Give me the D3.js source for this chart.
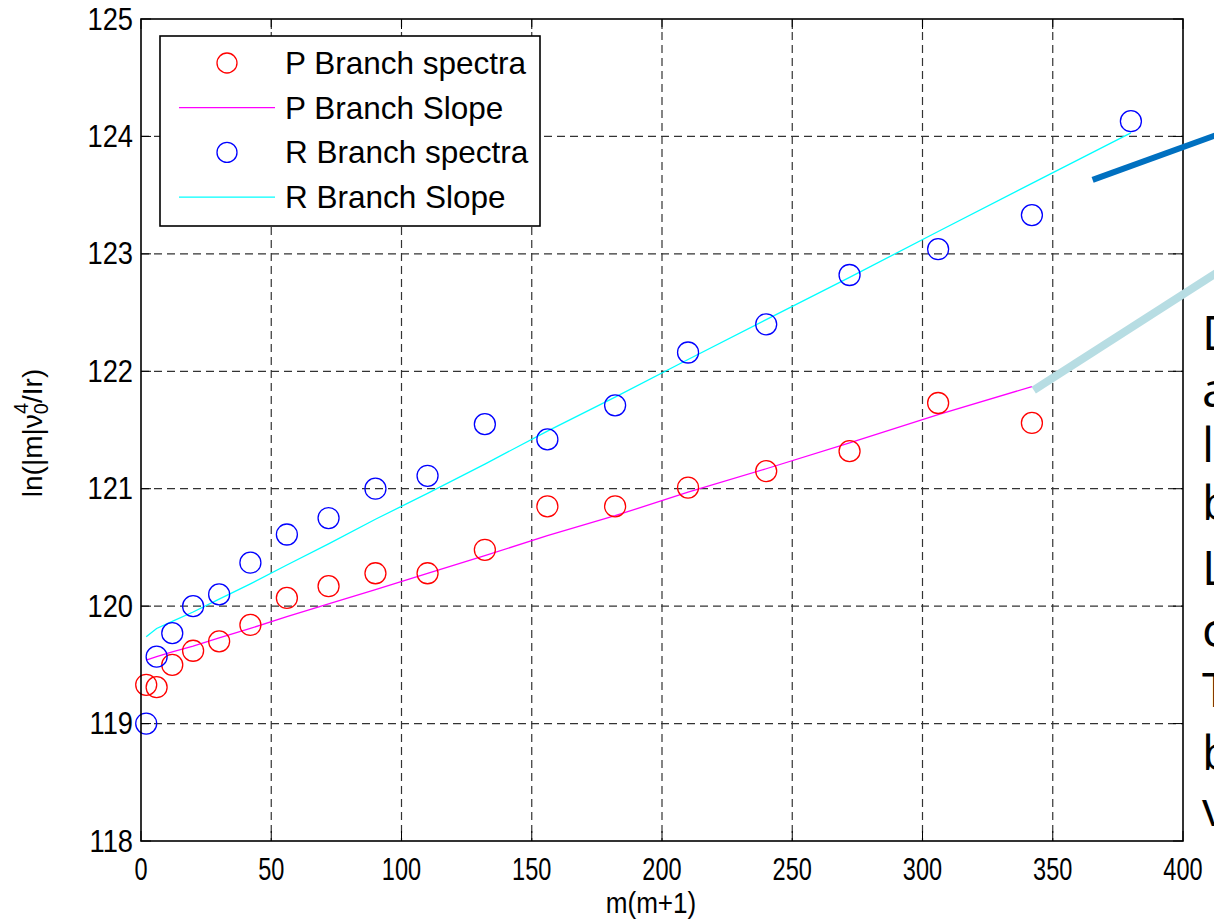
<!DOCTYPE html>
<html>
<head>
<meta charset="utf-8">
<script src="https://cdn.jsdelivr.net/npm/d3@7"></script>
<style>
  body { margin: 0; background: #fff; overflow: hidden; }
  svg { display: block; font-family: "Liberation Sans", Arial, sans-serif; }
</style>
</head>
<body>
<svg id="chart" width="1214" height="923"></svg>
<script>
// m(m+1) values
var xP = [2, 6, 12, 20, 30, 42, 56, 72, 90, 110, 132, 156, 182, 210, 240, 272, 306, 342];
var xR = [2, 6, 12, 20, 30, 42, 56, 72, 90, 110, 132, 156, 182, 210, 240, 272, 306, 342, 380];

var pSpectra = [119.33, 119.31, 119.50, 119.62, 119.70, 119.84, 120.07, 120.17, 120.28, 120.28,
                120.48, 120.85, 120.85, 121.01, 121.15, 121.32, 121.73, 121.56];
var pSlope   = [119.54, 119.57, 119.61, 119.66, 119.73, 119.81, 119.91, 120.02, 120.14, 120.28,
                120.43, 120.60, 120.77, 120.97, 121.17, 121.39, 121.63, 121.87];

var rSpectra = [119.00, 119.57, 119.77, 120.00, 120.10, 120.37, 120.61, 120.75, 121.00, 121.11,
                121.55, 121.42, 121.71, 122.16, 122.40, 122.82, 123.04, 123.33, 124.13];
var rSlope   = [119.74, 119.81, 119.87, 119.95, 120.06, 120.19, 120.35, 120.53, 120.74, 120.96,
                121.21, 121.49, 121.78, 122.10, 122.44, 122.80, 123.19, 123.60, 124.03];

var xTicks = [0, 50, 100, 150, 200, 250, 300, 350, 400];
var yTicks = [118, 119, 120, 121, 122, 123, 124, 125];

var legendLabels = ["P Branch spectra", "P Branch Slope", "R Branch spectra", "R Branch Slope"];

// slide annotations that overlap the chart (data units)
var darkArrow  = [[365.3, 123.63], [420, 124.07]];
var lightArrow = [[342.7, 121.84], [420, 122.94]];
var sideLetters = ["D", "a", "l", "b", "L", "c", "T", "b", "v"];
var sideBaselines = [350, 407, 462, 520, 585, 647, 707, 770, 826];

var svg = d3.select("#chart"),
    margin = {top: 19, left: 141},
    width = 1042,
    height = 822;

var x = d3.scaleLinear().domain([0, 400]).range([0, width]);
var y = d3.scaleLinear().domain([118, 125]).range([height, 0]);

var g = svg.append("g")
    .attr("transform", "translate(" + margin.left + "," + margin.top + ")");

// grid
g.selectAll(".gx").data(xTicks.slice(1, -1)).enter().append("line")
    .attr("x1", d => x(d)).attr("x2", d => x(d))
    .attr("y1", 0).attr("y2", height)
    .attr("stroke", "#333").attr("stroke-width", 1.2).attr("stroke-dasharray", "8,5");
g.selectAll(".gy").data(yTicks.slice(1, -1)).enter().append("line")
    .attr("y1", d => y(d)).attr("y2", d => y(d))
    .attr("x1", 0).attr("x2", width)
    .attr("stroke", "#333").attr("stroke-width", 1.2).attr("stroke-dasharray", "8,5");

// inward ticks on all four sides
var tl = 10;
xTicks.forEach(function(t) {
  g.append("line").attr("x1", x(t)).attr("x2", x(t)).attr("y1", height).attr("y2", height - tl).attr("stroke", "#000");
  g.append("line").attr("x1", x(t)).attr("x2", x(t)).attr("y1", 0).attr("y2", tl).attr("stroke", "#000");
});
yTicks.forEach(function(t) {
  g.append("line").attr("y1", y(t)).attr("y2", y(t)).attr("x1", 0).attr("x2", tl).attr("stroke", "#000");
  g.append("line").attr("y1", y(t)).attr("y2", y(t)).attr("x1", width).attr("x2", width - tl).attr("stroke", "#000");
});

// tick labels
g.selectAll(".xl").data(xTicks).enter().append("text")
    .attr("transform", d => "translate(" + x(d) + "," + (height + 28) + ") scale(0.76,1)")
    .attr("text-anchor", "middle").attr("dominant-baseline", "central")
    .attr("font-size", 31).text(d => d);
g.selectAll(".yl").data(yTicks).enter().append("text")
    .attr("transform", d => "translate(-8," + y(d) + ") scale(0.88,1)")
    .attr("text-anchor", "end").attr("dominant-baseline", "central")
    .attr("font-size", 31).text(d => d);

// axis titles
svg.append("text")
    .attr("transform", "translate(651,913) scale(0.9,1)")
    .attr("text-anchor", "middle").attr("font-size", 29).text("m(m+1)");
var yt = svg.append("text")
    .attr("transform", "translate(42,433) rotate(-90)")
    .attr("text-anchor", "middle").attr("font-size", 28);
yt.append("tspan").text("ln(|m|ν");
yt.append("tspan").attr("font-size", 20).attr("dy", 6).text("0");
yt.append("tspan").attr("font-size", 20).attr("dx", -11).attr("dy", -20).text("4");
yt.append("tspan").attr("dy", 14).text("/Ir)");

// fitted lines
var line = d3.line().x(d => x(d[0])).y(d => y(d[1]));
g.append("path").datum(d3.zip(xP, pSlope)).attr("d", line)
    .attr("fill", "none").attr("stroke", "#ff00ff").attr("stroke-width", 1.3);
g.append("path").datum(d3.zip(xR, rSlope)).attr("d", line)
    .attr("fill", "none").attr("stroke", "#00ffff").attr("stroke-width", 1.3);

// markers
g.selectAll(".pc").data(d3.zip(xP, pSpectra)).enter().append("circle")
    .attr("cx", d => x(d[0])).attr("cy", d => y(d[1])).attr("r", 10.5)
    .attr("fill", "none").attr("stroke", "#ff0000").attr("stroke-width", 1.3);
g.selectAll(".rc").data(d3.zip(xR, rSpectra)).enter().append("circle")
    .attr("cx", d => x(d[0])).attr("cy", d => y(d[1])).attr("r", 10.5)
    .attr("fill", "none").attr("stroke", "#0000ff").attr("stroke-width", 1.3);

// axes box
g.append("rect").attr("width", width).attr("height", height)
    .attr("fill", "none").attr("stroke", "#000").attr("stroke-width", 1.6);

// legend
var lg = svg.append("g").attr("transform", "translate(160,36)");
lg.append("rect").attr("width", 380).attr("height", 190)
    .attr("fill", "#fff").attr("stroke", "#000").attr("stroke-width", 1.6);
var kinds = ["circle", "line", "circle", "line"],
    colors = ["#ff0000", "#ff00ff", "#0000ff", "#00ffff"];
legendLabels.forEach(function(lab, i) {
  var yy = 27 + i * 44.7;
  if (kinds[i] === "circle") {
    lg.append("circle").attr("cx", 67).attr("cy", yy).attr("r", 10)
      .attr("fill", "none").attr("stroke", colors[i]).attr("stroke-width", 1.3);
  } else {
    lg.append("line").attr("x1", 19).attr("x2", 115).attr("y1", yy).attr("y2", yy)
      .attr("stroke", colors[i]).attr("stroke-width", 1.3);
  }
  lg.append("text").attr("x", 125).attr("y", yy + 11).attr("font-size", 31.5).text(lab);
});

// slide annotations
g.append("path").datum(darkArrow).attr("d", line)
    .attr("stroke", "#0070c0").attr("stroke-width", 6).attr("fill", "none");
g.append("path").datum(lightArrow).attr("d", line)
    .attr("stroke", "#b7dde3").attr("stroke-width", 8).attr("fill", "none");

svg.selectAll(".side").data(sideLetters).enter().append("text")
    .attr("x", 1202).attr("y", (d, i) => sideBaselines[i])
    .attr("font-family", "'Open Sans', 'Liberation Sans', sans-serif")
    .attr("font-size", 48).text(d => d);
</script>
</body>
</html>
